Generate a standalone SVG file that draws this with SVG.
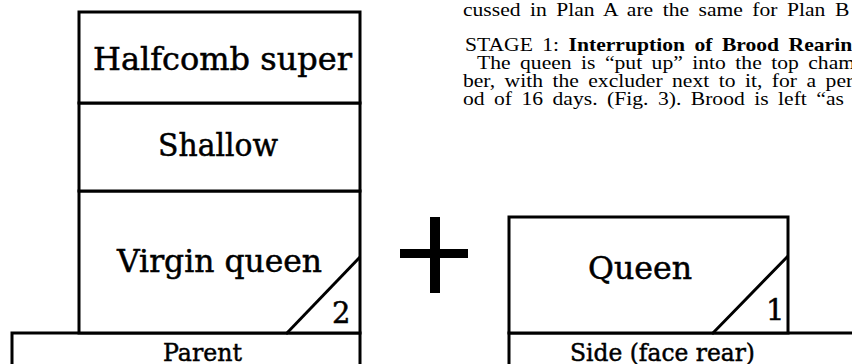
<svg xmlns="http://www.w3.org/2000/svg" width="852" height="364" viewBox="0 0 852 364">
<style>
.box{fill:#fff;stroke:#000;stroke-width:3}
.ln{stroke:#000;stroke-width:3;fill:none;stroke-linecap:square}
.lbl{font-family:"DejaVu Serif","Liberation Serif",serif;fill:#000;stroke:#000;stroke-width:0.5}
.body{font-family:"Liberation Serif","Times New Roman",serif;font-size:18px;fill:#000;word-spacing:3.4px}
.b{font-weight:bold}
</style>
<rect width="852" height="364" fill="#fff"/>
<g id="text-column" transform="matrix(1.2,0,0,1,0,0)">
<text class="body" x="385.8" y="16">cussed in Plan A are the same for Plan B</text>
<text class="body" x="387.5" y="51">STAGE 1: <tspan class="b">Interruption of Brood Rearing</tspan></text>
<text class="body" x="397.5" y="69">The queen is “put up” into the top chamber,</text>
<text class="body" x="385.8" y="87">ber, with the excluder next to it, for a peri-</text>
<text class="body" x="385.8" y="105">od of 16 days. (Fig. 3). Brood is left “as is”</text>
</g>
<g id="parent">
<rect class="box" x="12" y="333" width="348" height="40"/>
<text class="lbl" x="163" y="361" font-size="25" textLength="79" lengthAdjust="spacingAndGlyphs">Parent</text>
</g>
<g id="virgin-queen">
<rect class="box" x="79" y="191" width="281" height="142"/>
<line class="ln" x1="287" y1="333" x2="359" y2="258"/>
<text class="lbl" x="117" y="272" font-size="31" textLength="205" lengthAdjust="spacingAndGlyphs">Virgin queen</text>
<text class="lbl" x="332" y="323" font-size="29">2</text>
</g>
<g id="shallow">
<rect class="box" x="79" y="103" width="281" height="88"/>
<text class="lbl" x="158" y="156" font-size="31" textLength="120" lengthAdjust="spacingAndGlyphs">Shallow</text>
</g>
<g id="halfcomb-super">
<rect class="box" x="79" y="12" width="281" height="91"/>
<text class="lbl" x="93" y="70" font-size="31" textLength="259" lengthAdjust="spacingAndGlyphs">Halfcomb super</text>
</g>
<g id="plus">
<rect x="430" y="217" width="10" height="76" fill="#000"/>
<rect x="400" y="249" width="68" height="9" fill="#000"/>
</g>
<g id="side">
<rect class="box" x="509" y="333" width="360" height="40"/>
<text class="lbl" x="570" y="361" font-size="25" textLength="185" lengthAdjust="spacingAndGlyphs">Side (face rear)</text>
</g>
<g id="queen">
<rect class="box" x="509" y="217" width="279" height="116"/>
<line class="ln" x1="713" y1="333" x2="787" y2="257"/>
<text class="lbl" x="588" y="279" font-size="31" textLength="104" lengthAdjust="spacingAndGlyphs">Queen</text>
<text class="lbl" x="766" y="320" font-size="29">1</text>
</g>
<g id="connectors"></g>
</svg>
